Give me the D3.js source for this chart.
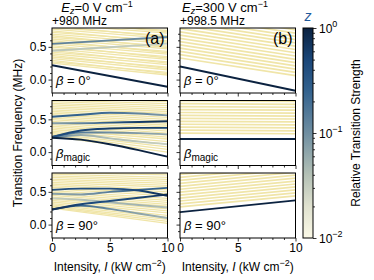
<!DOCTYPE html>
<html><head><meta charset="utf-8">
<script src="https://cdn.jsdelivr.net/npm/d3@7"></script>
<style>body{margin:0;background:#fff}svg{display:block}text{font-family:"Liberation Sans",Arial,sans-serif;fill:#000}</style>
</head><body><svg id="c" width="374" height="280"></svg>
<script>
// ---------- data ----------
const intensity2 = [0, 10];
const intensity5 = [0, 2.5, 5, 7.5, 10];
const xTicksMajor = [0, 5, 10];
const xTicksMinor = [1, 2, 3, 4, 6, 7, 8, 9];
const yTicksMajor = [0, 0.5];
const yTicksMinor = [-0.1, 0.1, 0.2, 0.3, 0.4, 0.6, 0.7];
const cbTicksMajor = [0.01, 0.1, 1];
const cbTickExponents = ["−2", "−1", "0"];
const cbTicksMinor = [0.02,0.03,0.04,0.05,0.06,0.07,0.08,0.09,0.2,0.3,0.4,0.5,0.6,0.7,0.8,0.9];
const columnFields = ["0", "300"];
const columnOffsets = ["+980 MHz", "+998.5 MHz"];
const panelTags = ["(a)", "(b)"];
const weakStrength = 0.004;

// weak (background) transitions: [f at I=0, f at I=10] in MHz
const weakA0 = [[0.25,0.07],[0.27,0.11],[0.295,0.09],[0.32,0.15],[0.345,0.19],[0.37,0.17],[0.395,0.23],[0.42,0.27],[0.445,0.25],[0.47,0.31],[0.495,0.35],[0.52,0.33],[0.545,0.39],[0.57,0.43],[0.595,0.41],[0.62,0.47],[0.645,0.51],[0.67,0.49],[0.695,0.55],[0.72,0.59],[0.745,0.57],[0.77,0.63],[0.795,0.67],[0.82,0.65],[0.845,0.71],[0.87,0.75],[0.895,0.73],[0.92,0.79],[0.945,0.83]];
const weakB0 = [[0.33,0.06],[0.38,0.11],[0.43,0.16],[0.48,0.21],[0.53,0.26],[0.58,0.31],[0.63,0.36],[0.68,0.41],[0.73,0.46],[0.78,0.51],[0.83,0.56],[0.88,0.61],[0.93,0.66],[0.98,0.71],[1.03,0.76],[1.08,0.81]];
const weakA1 = [[0.24,0.00],[0.26,0.04],[0.28,0.08],[0.30,0.12],[0.32,0.16],[0.345,0.20],[0.37,0.23],[0.395,0.26],[0.42,0.29],[0.445,0.32],[0.47,0.35],[0.495,0.38],[0.52,0.41],[0.545,0.44],[0.57,0.47],[0.595,0.50],[0.62,0.53],[0.645,0.56],[0.67,0.59],[0.695,0.62],[0.72,0.65],[0.745,0.68],[0.77,0.71],[0.795,0.74],[0.82,0.77],[0.845,0.80]];
const weakB1 = [[0.29,0.28],[0.335,0.325],[0.38,0.37],[0.425,0.415],[0.47,0.46],[0.515,0.505],[0.56,0.55],[0.605,0.595],[0.65,0.64],[0.695,0.685],[0.74,0.73],[0.785,0.775]];
const weakA2 = [[0.25,0.02],[0.265,0.05],[0.28,0.08],[0.30,0.11],[0.32,0.14],[0.345,0.18],[0.37,0.21],[0.395,0.24],[0.42,0.28],[0.445,0.31],[0.47,0.34],[0.495,0.37],[0.52,0.40],[0.545,0.44],[0.57,0.47],[0.595,0.50],[0.62,0.53],[0.645,0.57],[0.67,0.60],[0.695,0.63],[0.72,0.66],[0.745,0.69],[0.77,0.72],[0.795,0.76],[0.82,0.79],[0.845,0.82]];
const weakB2 = [[0.27,0.44],[0.315,0.485],[0.36,0.53],[0.405,0.575],[0.45,0.62],[0.495,0.665],[0.54,0.71],[0.585,0.755],[0.63,0.80],[0.675,0.845],[0.72,0.89],[0.765,0.935]];

// strong transitions: frequency (MHz) and relative strength at each intensity
const strongA0 = [
  {I: intensity2, f: [0.44, 0.55], s: [0.035, 0.03]},
  {I: intensity2, f: [0.545, 0.65], s: [0.13, 0.1]},
  {I: intensity2, f: [0.22, -0.11], s: [1, 1]}
];
const strongB0 = [
  {I: intensity2, f: [0.20, -0.17], s: [1, 1]}
];
const strongA1 = [
  {I: intensity5, f: [0.22, 0.26, 0.21, 0.16, 0.12], s: [0.15, 0.06, 0.04, 0.035, 0.03]},
  {I: intensity5, f: [0.23, 0.30, 0.30, 0.29, 0.27], s: [0.25, 0.15, 0.1, 0.08, 0.06]},
  {I: intensity5, f: [0.54, 0.57, 0.60, 0.59, 0.56], s: [0.25, 0.25, 0.2, 0.12, 0.08]},
  {I: intensity5, f: [0.44, 0.44, 0.45, 0.46, 0.47], s: [0.07, 0.12, 0.3, 0.6, 0.8]},
  {I: intensity5, f: [0.23, 0.33, 0.36, 0.37, 0.37], s: [0.4, 0.5, 0.6, 0.6, 0.5]},
  {I: intensity5, f: [0.22, 0.19, 0.12, 0.03, -0.07], s: [1, 1, 1, 1, 1]}
];
const strongB1 = [
  {I: intensity2, f: [0.20, 0.20], s: [1, 1]}
];
const strongA2 = [
  {I: intensity5, f: [0.40, 0.38, 0.34, 0.30, 0.26], s: [0.03, 0.04, 0.05, 0.05, 0.04]},
  {I: intensity5, f: [0.47, 0.46, 0.50, 0.53, 0.56], s: [0.07, 0.08, 0.15, 0.25, 0.25]},
  {I: intensity5, f: [0.23, 0.29, 0.24, 0.17, 0.10], s: [0.7, 0.25, 0.1, 0.07, 0.05]},
  {I: intensity5, f: [0.53, 0.55, 0.55, 0.52, 0.44], s: [0.4, 0.4, 0.4, 0.5, 0.8]},
  {I: intensity5, f: [0.23, 0.31, 0.36, 0.41, 0.46], s: [0.8, 0.5, 0.4, 0.5, 0.8]}
];
const strongB2 = [
  {I: intensity2, f: [0.19, 0.37], s: [1, 1]}
];

// ---------- layout ----------
const svg = d3.select("#c");
const colX = [52, 180], colW = 115.5;
const rowTop = [28, 100.5, 173], rowH = 65;
const yDomain = [-0.205, 0.788];
const cb = {x: 303, w: 10, top: 28, bottom: 238};

const cmapT = d3.scaleLog().domain([0.01, 1]).range([0, 1]).clamp(true);
const cmapStops = [0, 0.15, 0.3, 0.5, 0.7, 0.85, 1];
const cmapColors = ["#fbf9e7", "#e0e2d0", "#b4c1b6", "#6f8ea1", "#33628e", "#1a4678", "#0b2240"];
const cmap = d3.scaleLinear().domain(cmapStops).range(cmapColors);
const weakColor = "#f0e5a8";
const colorOf = s => s < 0.01 ? weakColor : cmap(cmapT(s));

const defs = svg.append("defs");
const panels = [
  {c:0, r:0, weak:weakA0, strong:strongA0},
  {c:1, r:0, weak:weakB0, strong:strongB0},
  {c:0, r:1, weak:weakA1, strong:strongA1},
  {c:1, r:1, weak:weakB1, strong:strongB1},
  {c:0, r:2, weak:weakA2, strong:strongA2},
  {c:1, r:2, weak:weakB2, strong:strongB2}
];

let gid = 0;
panels.forEach((p, pi) => {
  const x = d3.scaleLinear().domain([0, 10]).range([colX[p.c], colX[p.c] + colW]);
  const y = d3.scaleLinear().domain(yDomain).range([rowTop[p.r] + rowH, rowTop[p.r]]);
  const clipId = "clip" + pi;
  defs.append("clipPath").attr("id", clipId).append("rect")
    .attr("x", x.range()[0]).attr("y", rowTop[p.r]).attr("width", colW).attr("height", rowH);
  const g = svg.append("g").attr("clip-path", `url(#${clipId})`);
  const line2 = d3.line().x(d => x(d[0])).y(d => y(d[1]));
  g.selectAll("path.weak").data(p.weak).join("path").attr("class", "weak")
    .attr("d", d => line2([[intensity2[0], d[0]], [intensity2[1], d[1]]]))
    .attr("fill", "none").attr("stroke", colorOf(weakStrength)).attr("stroke-width", p.c === 0 ? 1.3 : 1.7);
  const lineC = d3.line().x(d => x(d[0])).y(d => y(d[1])).curve(d3.curveMonotoneX);
  const sorted = p.strong.slice().sort((a, b) => d3.max(a.s) - d3.max(b.s));
  sorted.forEach(L => {
    const id = "gr" + (gid++);
    const gr = defs.append("linearGradient").attr("id", id).attr("gradientUnits", "userSpaceOnUse")
      .attr("x1", x(L.I[0])).attr("x2", x(L.I[L.I.length - 1])).attr("y1", 0).attr("y2", 0);
    L.I.forEach((v, i) => gr.append("stop").attr("offset", (v - L.I[0]) / (L.I[L.I.length - 1] - L.I[0]))
      .attr("stop-color", colorOf(L.s[i])));
    g.append("path").attr("d", lineC(L.I.map((v, i) => [v, L.f[i]])))
      .attr("fill", "none").attr("stroke", `url(#${id})`).attr("stroke-width", 1.9);
  });
  svg.append("rect").attr("x", x.range()[0]).attr("y", rowTop[p.r]).attr("width", colW).attr("height", rowH)
    .attr("fill", "none").attr("stroke", "#000").attr("stroke-width", 1);
  svg.append("g").attr("transform", `translate(0,${rowTop[p.r] + rowH})`)
    .call(d3.axisBottom(x).tickValues(xTicksMajor).tickSize(3.5).tickPadding(2)
      .tickFormat(p.r === 2 ? d3.format("d") : ""));
  svg.append("g").attr("transform", `translate(0,${rowTop[p.r] + rowH})`)
    .call(d3.axisBottom(x).tickValues(xTicksMinor).tickSize(2).tickFormat(""));
  svg.append("g").attr("transform", `translate(${x.range()[0]},0)`)
    .call(d3.axisLeft(y).tickValues(yTicksMajor).tickSize(3.5).tickPadding(2)
      .tickFormat(p.c === 0 ? d3.format(".1f") : ""));
  svg.append("g").attr("transform", `translate(${x.range()[0]},0)`)
    .call(d3.axisLeft(y).tickValues(yTicksMinor).tickSize(2).tickFormat(""));
});
svg.selectAll(".domain").remove();
svg.selectAll(".tick line").attr("stroke", "#000").attr("stroke-width", 0.8);
svg.selectAll(".tick text").attr("font-size", 12).attr("font-family", '"Liberation Sans",Arial,sans-serif').attr("fill", "#000");

// panel labels
panelTags.forEach((t, c) => svg.append("text").attr("x", colX[c] + colW - 3).attr("y", rowTop[0] + 16)
  .attr("text-anchor", "end").attr("font-size", 16).text(t));
const betaLabels = [["= 0°", null], [null, "magic"], ["= 90°", null]];
betaLabels.forEach((bl, r) => {
  [0, 1].forEach(c => {
    const t = svg.append("text").attr("x", colX[c] + 4).attr("y", rowTop[r] + rowH - 8).attr("font-size", 13);
    t.append("tspan").attr("font-style", "italic").text("β");
    if (bl[0]) t.append("tspan").text(" " + bl[0]);
    else t.append("tspan").attr("font-size", 10).attr("dy", 3).text(bl[1]);
  });
});

// column headers
columnFields.forEach((v, c) => {
  const t = svg.append("text").attr("x", colX[c] + 45).attr("y", 11.5).attr("text-anchor", "middle").attr("font-size", 13);
  t.append("tspan").attr("font-style", "italic").text("E");
  t.append("tspan").attr("font-style", "italic").attr("font-size", 9).attr("dy", 2).text("z");
  t.append("tspan").attr("dy", -2).text("=" + v + " V cm");
  t.append("tspan").attr("font-size", 9).attr("dy", -4.5).text("−1");
  svg.append("text").attr("x", colX[c]).attr("y", 25).attr("font-size", 12).text(columnOffsets[c]);
});

// x labels
[0, 1].forEach(c => {
  const t = svg.append("text").attr("x", colX[c] + colW / 2).attr("y", 271).attr("text-anchor", "middle").attr("font-size", 12);
  t.append("tspan").text("Intensity, ");
  t.append("tspan").attr("font-style", "italic").text("I");
  t.append("tspan").text(" (kW cm");
  t.append("tspan").attr("font-size", 9).attr("dy", -5).text("−2");
  t.append("tspan").attr("dy", 5).text(")");
});
svg.append("text").attr("transform", `translate(22,${(rowTop[0] + rowTop[2] + rowH) / 2}) rotate(-90)`)
  .attr("text-anchor", "middle").attr("font-size", 12).text("Transition Frequency (MHz)");

// colorbar
const cbScale = d3.scaleLog().domain([0.01, 1]).range([cb.bottom, cb.top]);
const cbg = defs.append("linearGradient").attr("id", "cbg").attr("x1", 0).attr("x2", 0).attr("y1", 1).attr("y2", 0);
cmapStops.forEach((s, i) => cbg.append("stop").attr("offset", s).attr("stop-color", cmapColors[i]));
svg.append("rect").attr("x", cb.x).attr("y", cb.top).attr("width", cb.w).attr("height", cb.bottom - cb.top)
  .attr("fill", "url(#cbg)").attr("stroke", "#000").attr("stroke-width", 1);
svg.append("g").attr("transform", `translate(${cb.x + cb.w},0)`)
  .call(d3.axisRight(cbScale).tickValues(cbTicksMajor).tickSize(3.5).tickFormat(""));
svg.append("g").attr("transform", `translate(${cb.x + cb.w},0)`)
  .call(d3.axisRight(cbScale).tickValues(cbTicksMinor).tickSize(2).tickFormat(""));
svg.selectAll(".domain").remove();
svg.selectAll(".tick line").attr("stroke", "#000").attr("stroke-width", 0.8);
cbTicksMajor.forEach((v, i) => {
  const t = svg.append("text").attr("x", cb.x + cb.w + 6).attr("y", cbScale(v) + 4.5).attr("font-size", 12);
  t.append("tspan").text("10");
  t.append("tspan").attr("font-size", 9).attr("dy", -6).text(cbTickExponents[i]);
});
svg.append("text").attr("x", cb.x + cb.w / 2).attr("y", 21).attr("text-anchor", "middle")
  .attr("font-size", 14).attr("font-style", "italic").style("fill", "#1f5a9a").text("z");
svg.append("text").attr("transform", `translate(360,${(cb.top + cb.bottom) / 2}) rotate(-90)`)
  .attr("text-anchor", "middle").attr("font-size", 12).text("Relative Transition Strength");
</script></body></html>
